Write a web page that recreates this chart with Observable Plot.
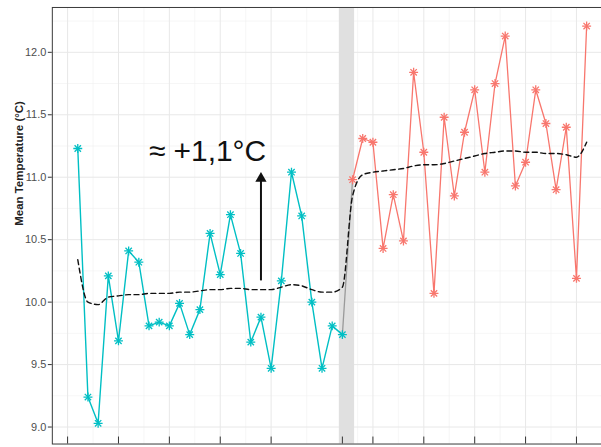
<!DOCTYPE html>
<html><head><meta charset="utf-8">
<script src="https://cdn.jsdelivr.net/npm/d3@7"></script>
<script src="https://cdn.jsdelivr.net/npm/@observablehq/plot@0.6"></script>
<style>html,body{margin:0;padding:0;overflow:hidden;background:#fff}</style>
</head><body><div id="chart"></div>
<script>
// ---- data ----
const yearsBefore = [1961,1962,1963,1964,1965,1966,1967,1968,1969,1970,1971,1972,1973,1974,1975,1976,1977,1978,1979,1980,1981,1982,1983,1984,1985,1986,1987];
const tempBefore  = [11.23,9.24,9.03,10.21,9.69,10.41,10.32,9.81,9.84,9.81,9.99,9.74,9.94,10.55,10.22,10.70,10.39,9.68,9.88,9.47,10.17,11.04,10.69,10.00,9.47,9.81,9.74];
const yearsAfter  = [1988,1989,1990,1991,1992,1993,1994,1995,1996,1997,1998,1999,2000,2001,2002,2003,2004,2005,2006,2007,2008,2009,2010,2011];
const tempAfter   = [10.98,11.31,11.28,10.43,10.86,10.49,11.84,11.20,10.07,11.48,10.85,11.36,11.70,11.04,11.75,12.13,10.93,11.12,11.70,11.43,10.90,11.40,10.19,12.21];
const yearsAll    = yearsBefore.concat(yearsAfter);
const smoothTemp  = [10.34,10.00,9.98,10.04,10.05,10.06,10.06,10.07,10.07,10.07,10.08,10.08,10.09,10.10,10.10,10.11,10.11,10.10,10.10,10.10,10.12,10.14,10.13,10.10,10.08,10.08,10.12,
                     10.85,11.02,11.04,11.05,11.06,11.07,11.09,11.10,11.10,11.11,11.13,11.15,11.17,11.19,11.20,11.21,11.21,11.20,11.20,11.19,11.19,11.18,11.16,11.28];
const breakBand   = [{x1: 1986.7, x2: 1988.2}];
const xTicks      = [1960,1965,1970,1975,1980,1987,1990,1995,2000,2005,2010];
const xMinor      = [1962.5,1967.5,1972.5,1977.5,1983.5,1988.5,1992.5,1997.5,2002.5,2007.5];
const yTicks      = [9.0,9.5,10.0,10.5,11.0,11.5,12.0];
const yMinor      = [9.25,9.75,10.25,10.75,11.25,11.75,12.25];
const annotText   = [{x: 1973.75, y: 11.207, label: "≈ +1,1°C"}];
const annotArrow  = [{x: 1979.0, y1: 10.17, y2: 10.99}];
const yLabel      = "Mean Temperature (°C)";

const teal = "#00BFC4", salmon = "#F8766D";
const before = yearsBefore.map((x,i)=>({x, y: tempBefore[i]}));
const after  = yearsAfter.map((x,i)=>({x, y: tempAfter[i]}));
const smooth = yearsAll.map((x,i)=>({x, y: smoothTemp[i]}));
const bridge = [before[before.length-1], after[0]];

const chart = Plot.plot({
  width: 603, height: 452,
  marginLeft: 52, marginRight: 0, marginTop: 7, marginBottom: 7,
  style: {fontFamily: "'Liberation Sans', Arial, sans-serif", background: "#fff"},
  x: {domain: [1958.5, 2012.46]},
  y: {domain: [8.864, 12.359]},
  marks: [
    Plot.gridY(yMinor, {stroke: "#f0f0f0", strokeOpacity: 1, strokeWidth: 0.6}),
    Plot.gridX(xMinor, {stroke: "#f0f0f0", strokeOpacity: 1, strokeWidth: 0.6}),
    Plot.gridY(yTicks, {stroke: "#e8e8e8", strokeOpacity: 1, strokeWidth: 1}),
    Plot.gridX(xTicks, {stroke: "#e8e8e8", strokeOpacity: 1, strokeWidth: 1}),
    Plot.rect(breakBand, {x1: "x1", x2: "x2", fill: "#e0e0e0"}),
    Plot.line(bridge, {x: "x", y: "y", stroke: "#9a9a9a", strokeWidth: 1.3}),
    Plot.line(before, {x: "x", y: "y", stroke: teal, strokeWidth: 1.4}),
    Plot.line(after, {x: "x", y: "y", stroke: salmon, strokeWidth: 1.3}),
    Plot.line(smooth, {x: "x", y: "y", stroke: "#111", strokeWidth: 1.4, strokeDasharray: "5,3.5", curve: "monotone-x"}),
    Plot.dot(before, {x: "x", y: "y", symbol: "plus", r: 3, stroke: teal, strokeWidth: 1.3}),
    Plot.dot(before, {x: "x", y: "y", symbol: "times", r: 3, stroke: teal, strokeWidth: 1.3}),
    Plot.dot(after, {x: "x", y: "y", symbol: "plus", r: 3, stroke: salmon, strokeWidth: 1.3}),
    Plot.dot(after, {x: "x", y: "y", symbol: "times", r: 3, stroke: salmon, strokeWidth: 1.3}),
    Plot.ruleX(annotArrow, {x: "x", y1: "y1", y2: "y2", stroke: "#111", strokeWidth: 2}),
    Plot.dot(annotArrow, {x: "x", y: "y2", symbol: "triangle", r: 4.2, fill: "#111", stroke: "none"}),
    Plot.text(annotText, {x: "x", y: "y", text: "label", fontSize: 30, fill: "#111", textAnchor: "middle"}),
    Plot.text([yLabel], {frameAnchor: "left", rotate: -90, dx: -33, fontSize: 11.5, fontWeight: "bold", fill: "#222"}),
    Plot.frame({stroke: "#3a3a3a", strokeWidth: 1}),
    Plot.axisY({ticks: yTicks, tickSize: 4, tickPadding: 2, tickFormat: d3.format(".1f"), label: null, fontSize: 11, color: "#4d4d4d", stroke: "#333"}),
    Plot.axisX({ticks: xTicks, tickSize: -7, tickFormat: () => "", label: null, stroke: "#333"})
  ]
});
document.getElementById("chart").appendChild(chart);
</script>
</body></html>
